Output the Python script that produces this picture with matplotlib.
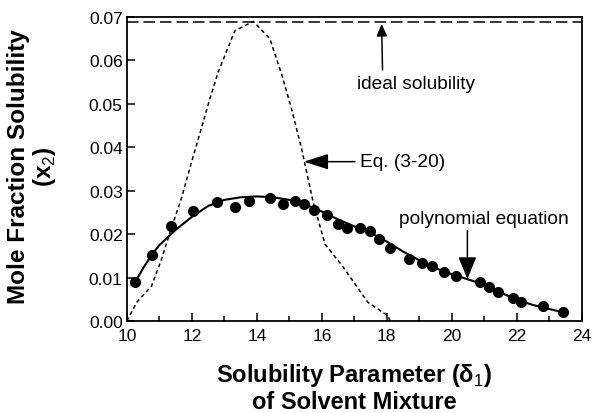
import numpy as np
import matplotlib.pyplot as plt
from matplotlib.ticker import MultipleLocator, FormatStrFormatter

plt.rcParams['font.family'] = ['Liberation Sans', 'DejaVu Sans']
plt.rcParams['mathtext.fontset'] = 'custom'
plt.rcParams['mathtext.rm'] = 'Liberation Sans'
plt.rcParams['mathtext.bf'] = 'Liberation Sans:bold'

# measured solubility points
delta_pts = [10.25, 10.76, 11.37, 12.04, 12.78, 13.32, 13.75, 14.40, 14.79, 15.17,
             15.45, 15.75, 16.16, 16.50, 16.76, 17.17, 17.48, 17.75, 18.09, 18.69,
             19.07, 19.38, 19.75, 20.12, 20.86, 21.15, 21.42, 21.87, 22.14, 22.81, 23.43]
x2_pts = [0.0089, 0.0152, 0.0220, 0.0253, 0.0273, 0.0262, 0.0276, 0.0283, 0.0270, 0.0277,
          0.0270, 0.0256, 0.0244, 0.0224, 0.0214, 0.0214, 0.0208, 0.0190, 0.0169, 0.0144,
          0.0134, 0.0126, 0.0112, 0.0103, 0.0091, 0.0078, 0.0066, 0.0053, 0.0045, 0.0034, 0.0020]

# polynomial fit curve
delta_poly = [10.25, 10.5, 10.76, 11.0, 11.5, 12.0, 12.5, 13.0, 13.5, 14.0, 14.5, 15.0,
              15.5, 16.0, 16.5, 17.0, 17.5, 18.0, 18.5, 19.0, 19.5, 20.0, 20.5, 21.0,
              21.5, 22.0, 22.5, 23.0, 23.43]
x2_poly = [0.0089, 0.0122, 0.0152, 0.0175, 0.0210, 0.0240, 0.0265, 0.0279, 0.0285, 0.0287,
           0.0285, 0.0279, 0.0268, 0.0252, 0.0234, 0.0218, 0.0203, 0.0183, 0.0160, 0.0140,
           0.0122, 0.0108, 0.0096, 0.0084, 0.0066, 0.0049, 0.0037, 0.0028, 0.0020]

# Eq. (3-20) curve
delta_eq = [10.0, 10.3, 10.76, 11.07, 11.35, 11.68, 11.99, 12.30, 12.55, 12.81, 13.32,
            13.89, 14.40, 14.76, 15.07, 15.38, 15.73, 16.10, 16.66, 17.42, 18.04, 18.10]
x2_eq = [0.0, 0.0043, 0.0081, 0.0143, 0.0210, 0.0283, 0.0366, 0.0446, 0.0511, 0.0573, 0.0668,
         0.0690, 0.0650, 0.0569, 0.0488, 0.0396, 0.0275, 0.0177, 0.0124, 0.0043, 0.0012, 0.0]

ideal_x2 = 0.0689

fig = plt.figure(figsize=(5.93, 4.14), dpi=100)
ax = fig.add_axes([0.214, 0.222, 0.767, 0.7345])

ax.axhline(ideal_x2, color='k', lw=1.1, ls=(0, (7.5, 3.3)))
ax.plot(delta_eq, x2_eq, color='k', lw=1.1, ls=(0, (2.6, 2.0)))
ax.plot(delta_poly, x2_poly, color='k', lw=1.5)
ax.plot(delta_pts, x2_pts, 'o', color='k', ms=7, mec='k')

ax.set_xlim(10, 24)
ax.set_ylim(0, 0.07)
ax.xaxis.set_major_locator(MultipleLocator(2))
ax.xaxis.set_minor_locator(MultipleLocator(1))
ax.yaxis.set_major_locator(MultipleLocator(0.01))
ax.yaxis.set_major_formatter(FormatStrFormatter('%.2f'))
ax.tick_params(which='major', direction='in', length=6, width=1.1, labelsize=12.5)
ax.tick_params(axis='y', pad=3)
ax.tick_params(axis='x', pad=5)
ax.tick_params(which='minor', direction='in', length=3.5, width=1.1)
for sp in ax.spines.values():
    sp.set_linewidth(1.3)

ax.set_xlabel('Solubility Parameter (δ$_1$)\nof Solvent Mixture', fontsize=17,
              fontweight='bold', linespacing=1.08)
ax.xaxis.set_label_coords(0.5, -0.132)
ax.set_ylabel('Mole Fraction Solubility\n(x$_2$)', fontsize=17.5,
              fontweight='bold', linespacing=1.05)
ax.yaxis.set_label_coords(-0.152, 0.51)

ax.annotate('ideal solubility', xy=(17.84, 0.0684), xytext=(18.89, 0.0546),
            fontsize=13.8, ha='center', va='center',
            arrowprops=dict(arrowstyle='-|>,head_length=0.36,head_width=0.16',
                            mutation_scale=20, color='k', lw=1.1,
                            shrinkA=2, shrinkB=0, relpos=(0.22, 1.0)))
ax.annotate('', xy=(15.45, 0.0367), xytext=(17.02, 0.0367),
            arrowprops=dict(arrowstyle='-|>,head_length=0.75,head_width=0.24',
                            mutation_scale=20, color='k', lw=1.1,
                            shrinkA=0, shrinkB=0))
ax.text(17.17, 0.0367, 'Eq. (3-20)', fontsize=13.8, ha='left', va='center')
ax.annotate('', xy=(20.48, 0.0097), xytext=(20.48, 0.0208),
            arrowprops=dict(arrowstyle='-|>,head_length=0.68,head_width=0.28',
                            mutation_scale=20, color='k', lw=1.1,
                            shrinkA=0, shrinkB=0))
ax.text(20.98, 0.0237, 'polynomial equation', fontsize=13.8, ha='center', va='center')

fig.savefig('out.png', dpi=100)
